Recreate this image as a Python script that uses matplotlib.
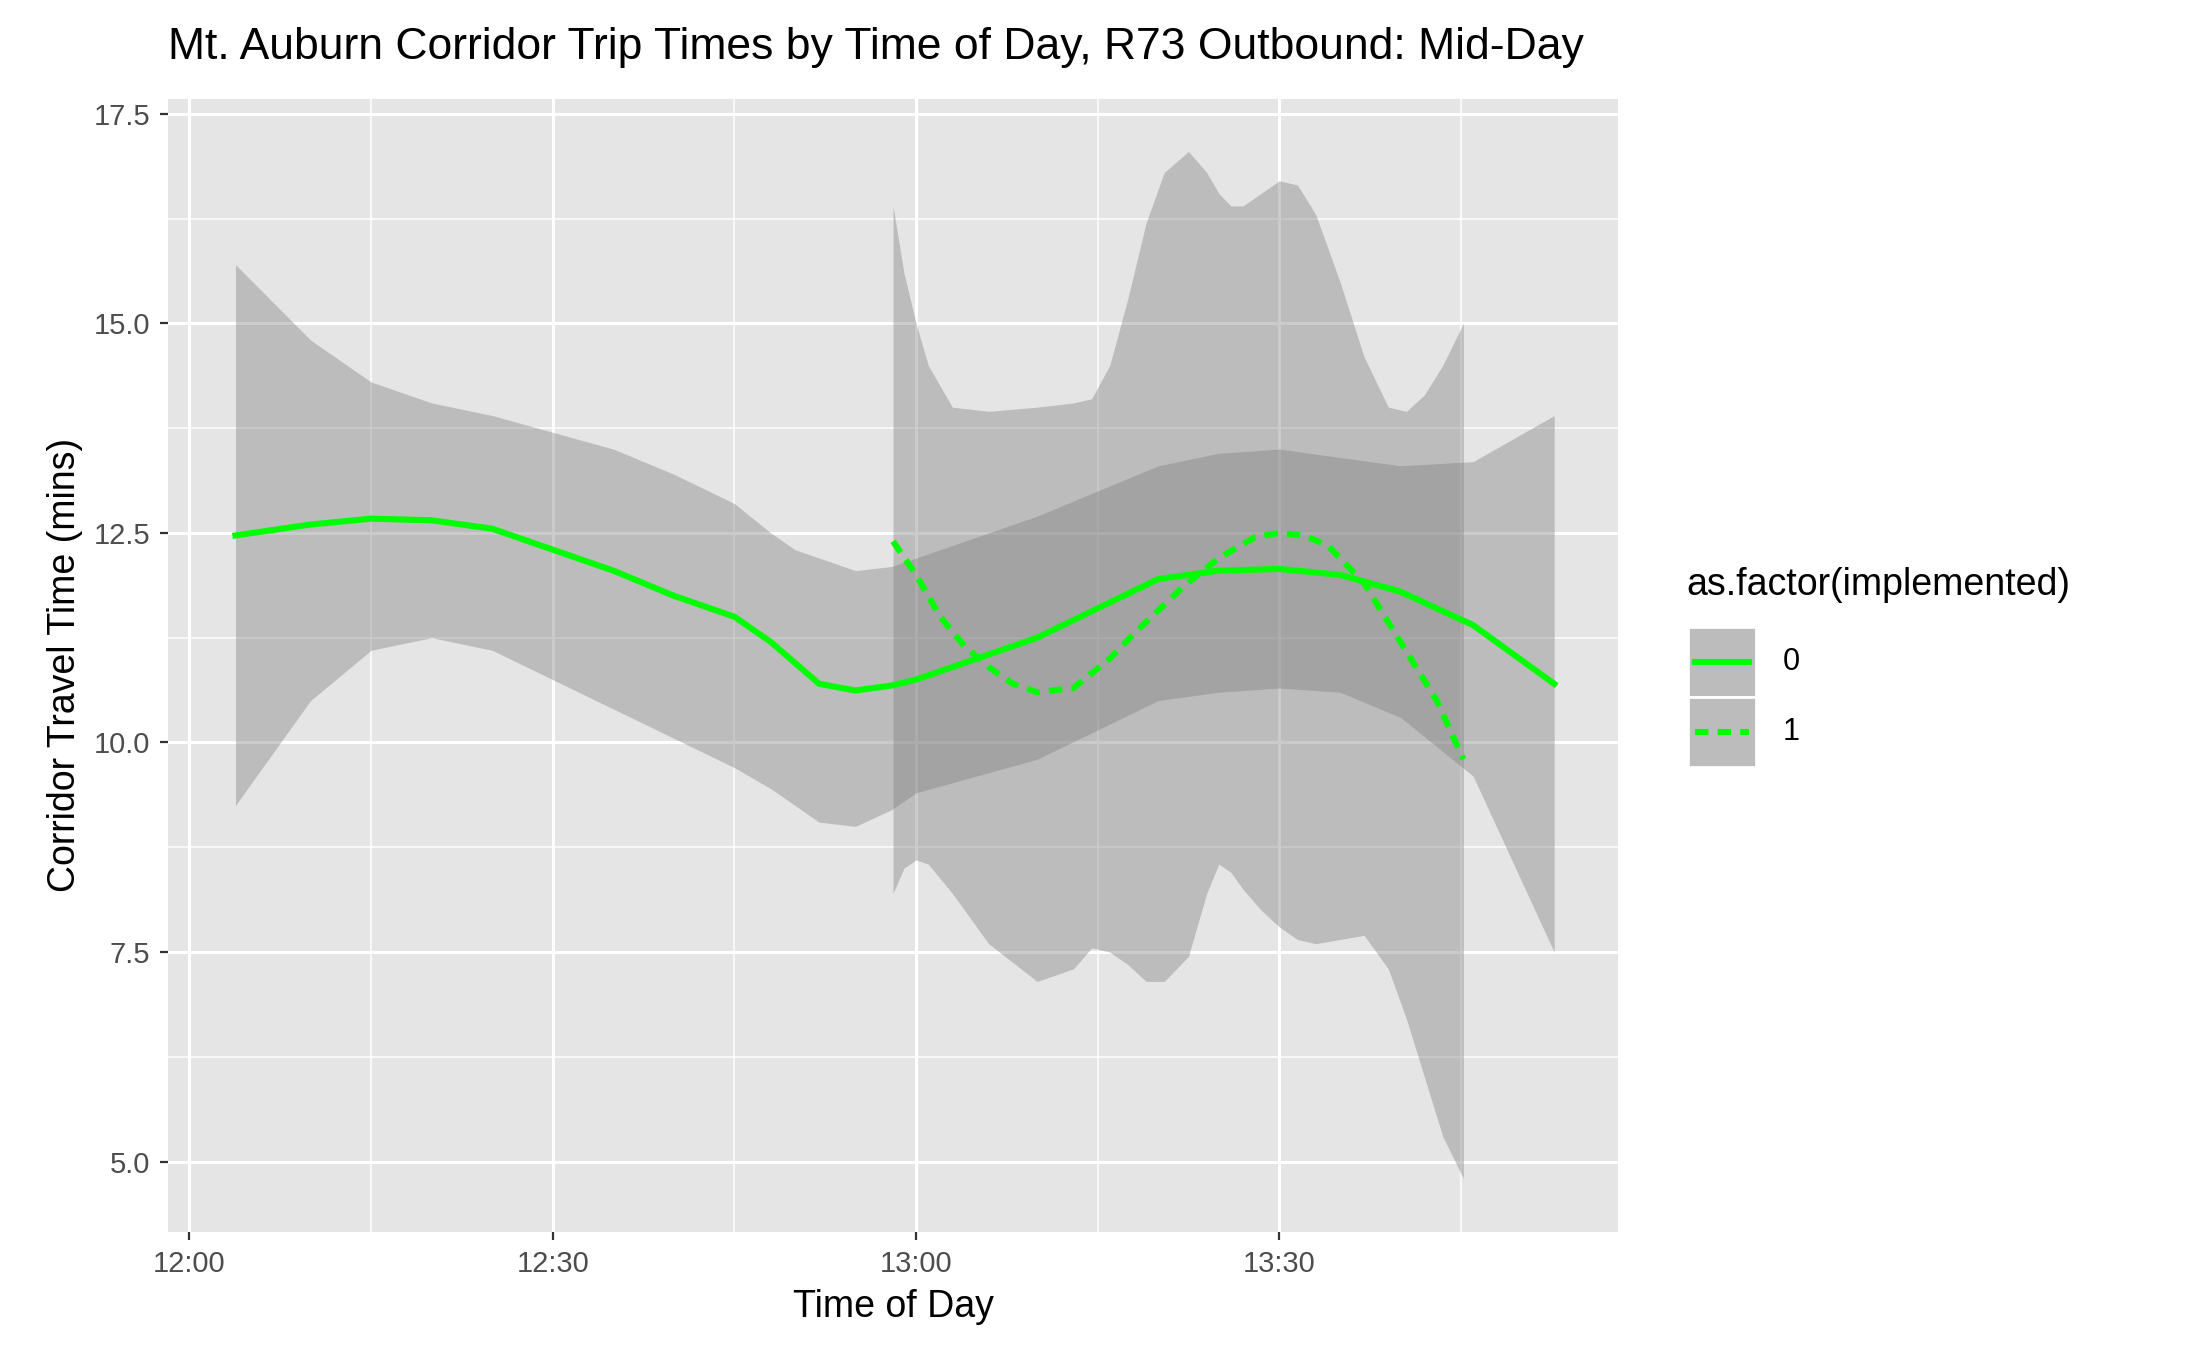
import matplotlib.pyplot as plt
import matplotlib.ticker as mticker
import numpy as np

plt.rcParams['font.family'] = ['Liberation Sans', 'DejaVu Sans']

# minutes after 12:00
x0 = [3.8, 10, 15, 20, 25, 30, 35, 40, 45, 48, 50, 52, 55, 58, 60, 65, 70, 75, 80, 85, 90, 95, 100, 106, 112.7]
y0 = [12.47, 12.6, 12.67, 12.65, 12.55, 12.3, 12.05, 11.75, 11.5, 11.2, 10.95, 10.7, 10.62, 10.68, 10.75, 11.0, 11.25, 11.6, 11.95, 12.05, 12.07, 12.0, 11.8, 11.4, 10.7]
hi0 = [15.7, 14.8, 14.3, 14.05, 13.9, 13.7, 13.5, 13.2, 12.85, 12.5, 12.3, 12.2, 12.05, 12.1, 12.2, 12.45, 12.7, 13.0, 13.3, 13.45, 13.5, 13.4, 13.3, 13.35, 13.9]
lo0 = [9.25, 10.5, 11.1, 11.25, 11.1, 10.75, 10.4, 10.05, 9.7, 9.45, 9.25, 9.05, 9.0, 9.2, 9.4, 9.6, 9.8, 10.15, 10.5, 10.6, 10.65, 10.6, 10.3, 9.6, 7.5]

x1 = [58.1, 60, 62, 64, 66, 68, 70, 73, 76, 78, 82, 85, 88, 90, 92, 94, 97, 100, 103, 105.2]
y1 = [12.4, 12.0, 11.5, 11.15, 10.9, 10.7, 10.6, 10.65, 11.0, 11.3, 11.85, 12.2, 12.45, 12.5, 12.47, 12.35, 11.9, 11.2, 10.5, 9.8]
xb1 = [58.1, 59, 60, 61, 63, 66, 70, 73, 74.5, 76, 77.5, 79, 80.5, 82.5, 84, 85, 86, 87, 88.5, 90, 91.5, 93, 95, 97, 99, 100.5, 102, 103.5, 105.2]
hi1 = [16.4, 15.6, 15.0, 14.5, 14.0, 13.95, 14.0, 14.05, 14.1, 14.5, 15.3, 16.2, 16.8, 17.05, 16.8, 16.55, 16.4, 16.4, 16.55, 16.7, 16.65, 16.3, 15.5, 14.6, 14.0, 13.95, 14.15, 14.5, 15.0]
lo1 = [8.2, 8.5, 8.6, 8.55, 8.2, 7.6, 7.15, 7.3, 7.55, 7.5, 7.35, 7.15, 7.15, 7.45, 8.2, 8.55, 8.45, 8.25, 8.0, 7.8, 7.65, 7.6, 7.65, 7.7, 7.3, 6.7, 6.0, 5.3, 4.8]

green = '#00FF00'
fig = plt.figure(figsize=(10.935, 6.755), dpi=200)
ax = fig.add_axes([0.077, 0.088, 0.663, 0.839])
ax.set_facecolor('#E5E5E5')
for s in ax.spines.values():
    s.set_visible(False)

ax.fill_between(x0, lo0, hi0, color='#7F7F7F', alpha=0.4, lw=0)
ax.fill_between(xb1, lo1, hi1, color='#7F7F7F', alpha=0.4, lw=0)
ax.plot(x0, y0, color=green, lw=2.2)
ax.plot(x1, y1, color=green, lw=2.2, ls=(0, (2.2, 1.5)))

ax.set_xlim(-1.74, 118)
ax.set_ylim(4.16, 17.68)
ax.set_xticks([0, 30, 60, 90])
ax.set_xticklabels(['12:00', '12:30', '13:00', '13:30'])
ax.set_xticks([15, 45, 75, 105], minor=True)
ax.set_yticks([5, 7.5, 10, 12.5, 15, 17.5])
ax.yaxis.set_major_formatter(mticker.FormatStrFormatter('%.1f'))
ax.set_yticks([6.25, 8.75, 11.25, 13.75, 16.25], minor=True)
ax.grid(which='major', color='white', lw=1.1)
ax.grid(which='minor', color='white', lw=0.55)
ax.set_axisbelow(True)
ax.tick_params(which='major', color='#333333', labelcolor='#4D4D4D', labelsize=10.5, length=3)
ax.tick_params(which='minor', length=0)
ax.set_xlabel('Time of Day', fontsize=13.5)
ax.set_ylabel('Corridor Travel Time (mins)', fontsize=13.5)
fig.text(0.077, 0.965, 'Mt. Auburn Corridor Trip Times by Time of Day, R73 Outbound: Mid-Day',
         fontsize=16, va='center')

# legend
fig.text(0.771, 0.567, 'as.factor(implemented)', fontsize=13.5, va='center')
for i, (lab, ls) in enumerate([('0', '-'), ('1', (0, (2.2, 1.5)))]):
    k = fig.add_axes([0.772, 0.484 - i * 0.052, 0.031, 0.052])
    k.set_facecolor('#E5E5E5')
    k.fill_between([0, 1], 0, 1, color='#7F7F7F', alpha=0.4, lw=0)
    k.plot([0.1, 0.9], [0.5, 0.5], color=green, lw=2.2, ls=ls)
    k.set_xlim(0, 1); k.set_ylim(0, 1)
    k.set_xticks([]); k.set_yticks([])
    for s in k.spines.values():
        s.set_color('white'); s.set_linewidth(1)
    fig.text(0.815, 0.51 - i * 0.052, lab, fontsize=11, va='center')

fig.savefig('out.png')
